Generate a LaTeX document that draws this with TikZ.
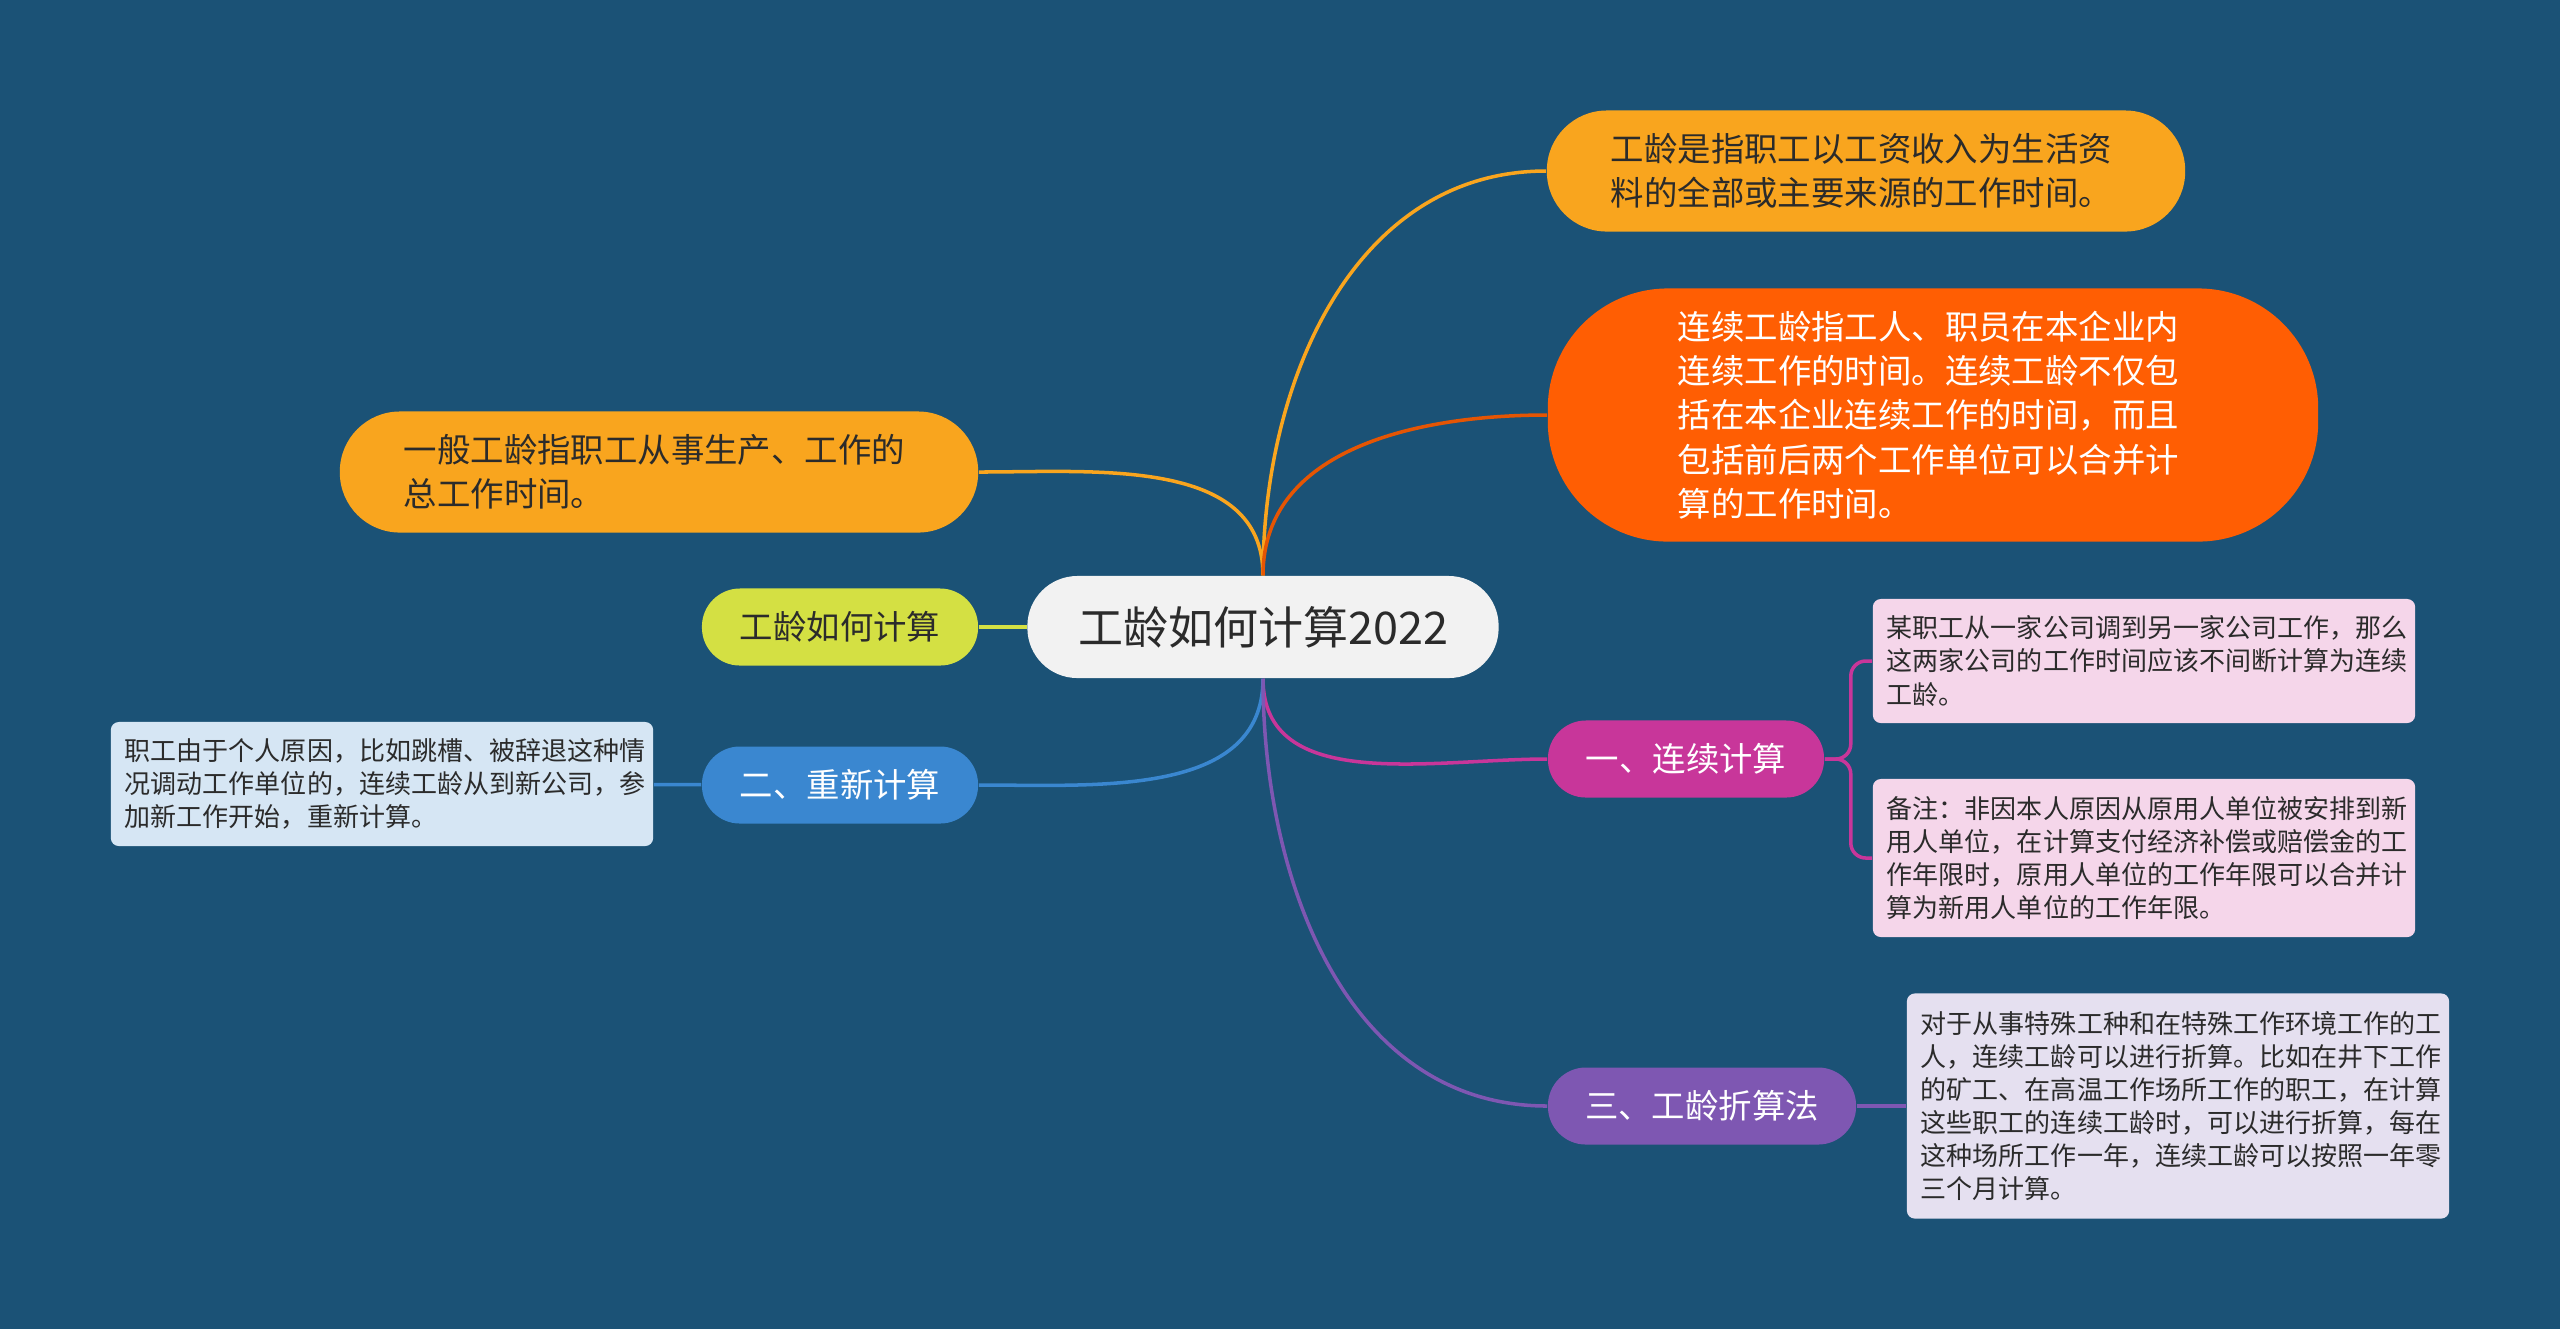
\documentclass[tikz,border=0pt]{standalone}
\usepackage{fontspec}
\setmainfont{Noto Sans CJK SC}
\definecolor{bgblue}{HTML}{1B5276}
\definecolor{rootfill}{HTML}{F2F2F2}
\definecolor{limefill}{HTML}{D4E043}
\definecolor{amberfill}{HTML}{F9A51E}
\definecolor{flamefill}{HTML}{FF5E03}
\definecolor{plumfill}{HTML}{C8369A}
\definecolor{skyfill}{HTML}{3A87D0}
\definecolor{violetfill}{HTML}{7E57B2}
\definecolor{pinkleaf}{HTML}{F5D6EA}
\definecolor{blueleaf}{HTML}{D6E6F4}
\definecolor{violetleaf}{HTML}{E5E0F0}
\definecolor{darktext}{HTML}{2B2B2B}
\begin{document}
\begin{tikzpicture}
            [
                x = 0.01cm, y = -0.01cm,
                rootnode/.style = {fill=rootfill, text=darktext, rounded corners=0.5cm, minimum width=4.71cm, minimum height=1.02cm, inner sep=0, font=\fontsize{12.8}{15}\selectfont},
                pill/.style = {rounded corners=0.38cm, minimum width=2.76cm, minimum height=0.77cm, inner sep=0, text=white, font=\fontsize{9.5}{12.5}\selectfont},
                bubble/.style = {fill=amberfill, text=darktext, rounded corners=0.6cm, minimum width=6.38cm, minimum height=1.21cm, inner sep=0, text width=5.1cm, align=left, font=\fontsize{9.5}{12.5}\selectfont},
                leaf/.style = {rounded corners=0.08cm, minimum width=5.42cm, inner sep=0, text width=5.14cm, align=left, text=darktext, font=\fontsize{7.4}{9.4}\selectfont},
                link/.style = {line width=1pt}
            ]
            \fill[bgblue] (0,0) rectangle (2560,1329);
            \useasboundingbox (0,0) rectangle (2560,1329);
            \node[rootnode] (root) at (1263, 627) {工龄如何计算2022};
            \node[pill, fill=limefill, text=darktext] (topic) at (840, 627) {工龄如何计算};
            \node[bubble] (gen) at (659, 472) {一般工龄指职工从事生产、工作的\\总工作时间。};
            \node[bubble] (def) at (1866, 171) {工龄是指职工以工资收入为生活资\\料的全部或主要来源的工作时间。};
            \node[bubble, fill=flamefill, text=white, minimum width=7.7cm, minimum height=2.53cm, rounded corners=1.2cm, font=\fontsize{9.5}{12.6}\selectfont] (contdef) at (1933, 415) {连续工龄指工人、职员在本企业内\\连续工作的时间。连续工龄不仅包\\括在本企业连续工作的时间，而且\\包括前后两个工作单位可以合并计\\算的工作时间。};
            \node[pill, fill=plumfill] (cont) at (1686, 759) {一、连续计算};
            \node[pill, fill=skyfill] (redo) at (840, 785) {二、重新计算};
            \node[pill, fill=violetfill, minimum width=3.08cm] (fold) at (1702, 1106) {三、工龄折算法};
            \node[leaf, fill=pinkleaf, minimum height=1.24cm] (contA) at (2144, 661) {某职工从一家公司调到另一家公司工作，那么\\这两家公司的工作时间应该不间断计算为连续\\工龄。};
            \node[leaf, fill=pinkleaf, minimum height=1.58cm] (contB) at (2144, 858) {备注：非因本人原因从原用人单位被安排到新\\用人单位，在计算支付经济补偿或赔偿金的工\\作年限时，原用人单位的工作年限可以合并计\\算为新用人单位的工作年限。};
            \node[leaf, fill=blueleaf, minimum height=1.24cm] (redoleaf) at (382, 784) {职工由于个人原因，比如跳槽、被辞退这种情\\况调动工作单位的，连续工龄从到新公司，参\\加新工作开始，重新计算。};
            \node[leaf, fill=violetleaf, minimum height=2.25cm] (foldleaf) at (2178, 1106) {对于从事特殊工种和在特殊工作环境工作的工\\人，连续工龄可以进行折算。比如在井下工作\\的矿工、在高温工作场所工作的职工，在计算\\这些职工的连续工龄时，可以进行折算，每在\\这种场所工作一年，连续工龄可以按照一年零\\三个月计算。};
            \draw[link, limefill] (root) -- (topic);
            \draw[link, amberfill] (root.north) to[out=90, in=0] (gen.east);
            \draw[link, amberfill] (root.north) to[out=90, in=180] (def.west);
            \draw[link, flamefill!90!black] (root.north) to[out=90, in=180] (contdef.west);
            \draw[link, plumfill] (root.south) to[out=-90, in=180] (cont.west);
            \draw[link, skyfill] (root.south) to[out=-90, in=0] (redo.east);
            \draw[link, violetfill] (root.south) to[out=-90, in=180] (fold.west);
            \draw[link, plumfill, rounded corners=0.15cm] (cont.east) -- ++(26, 0) |- (contA.west);
            \draw[link, plumfill, rounded corners=0.15cm] (cont.east) -- ++(26, 0) |- (contB.west);
            \draw[link, skyfill] (redo) -- (redoleaf);
            \draw[link, violetfill] (fold) -- (foldleaf);
        \end{tikzpicture}
\end{document}
